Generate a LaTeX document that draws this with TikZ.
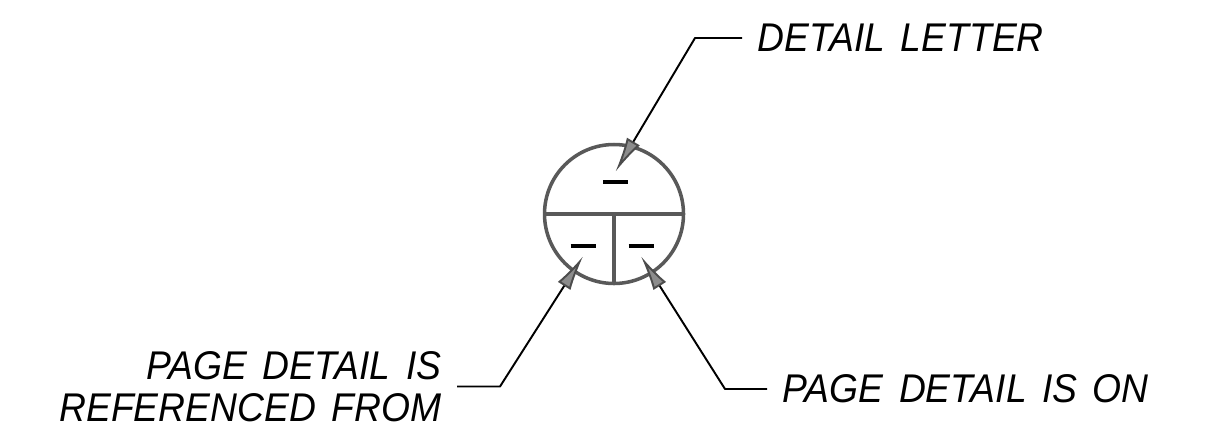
\documentclass[tikz,border=0pt]{standalone}
\usepackage{fontspec}
\setmainfont{Liberation Sans}[FakeStretch=0.93,WordSpace=1.5]
\usetikzlibrary{arrows.meta,positioning}

\begin{document}
\begin{tikzpicture}[x=1cm,y=1cm]
\tikzset{
  bubblenode/.style={circle,draw=black!65,line width=1pt,minimum size=1.39cm,inner sep=0pt},
  bubbleline/.style={draw=black!65,line width=1pt},
  slotnode/.style={inner xsep=0pt,inner ysep=2.2pt},
  calloutlabel/.style={inner sep=0.15cm,font=\fontsize{11.4}{11.9}\selectfont\itshape},
  leader/.style={draw=black,line width=0.55pt,line join=round,
    -{Latex[length=3.5mm,width=1.5mm,color=black!70,fill=black!45]}}
}
\useasboundingbox (0,0) rectangle (12.10,4.38);
\node[bubblenode] (n_bubble) at (6.14,2.24) {};
\draw[bubbleline] (n_bubble.west) -- (n_bubble.east);
\draw[bubbleline] (n_bubble.center) -- (n_bubble.south);
\node[slotnode] (n_letter) at (6.155,2.56) {\rule{2.5mm}{1.1pt}};
\node[slotnode] (n_pgfrom) at (5.83,1.92) {\rule{2.5mm}{1.1pt}};
\node[slotnode] (n_pgon) at (6.41,1.92) {\rule{2.5mm}{1.1pt}};
\node[calloutlabel,anchor=west] (n_lbl_letter) at (7.42,4.00) {DETAIL LETTER};
\node[calloutlabel,anchor=east,align=right] (n_lbl_from) at (4.57,0.515) {PAGE DETAIL IS\\REFERENCED FROM};
\node[calloutlabel,anchor=west] (n_lbl_on) at (7.67,0.49) {PAGE DETAIL IS ON};
\draw[leader] (n_lbl_letter.west) -- ++(-0.47,0) -- (n_letter.north);
\draw[leader] (n_lbl_from.east) -- ++(0.43,0) -- (n_pgfrom.south);
\draw[leader] (n_lbl_on.west) -- ++(-0.42,0) -- (n_pgon.south);
\end{tikzpicture}
\end{document}
